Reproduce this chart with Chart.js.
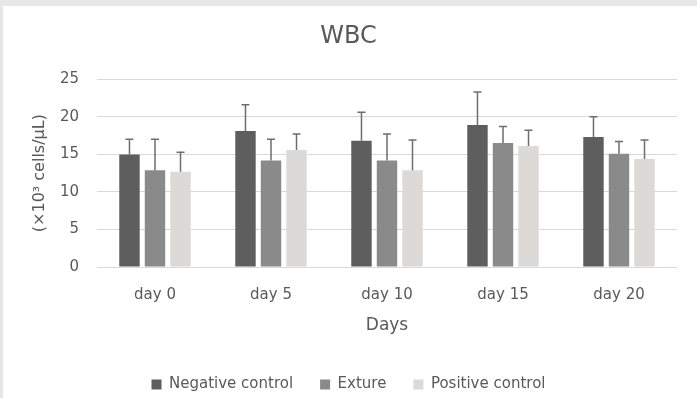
<!DOCTYPE html>
<html>
<head>
<meta charset="utf-8">
<script src="https://cdn.jsdelivr.net/npm/chart.js@4"></script>
<style>
  html, body { margin: 0; padding: 0; background: #e6e7e9; }
  #wrap { position: absolute; left: 0; top: 0; width: 697px; height: 398px; }
</style>
</head>
<body>
<div id="wrap"><canvas id="c" width="697" height="398"></canvas></div>
<script>
const categories = ['day 0', 'day 5', 'day 10', 'day 15', 'day 20'];
const seriesNames = ['Negative control', 'Exture', 'Positive control'];
const negativeMean = [15.0, 18.1, 16.8, 18.9, 17.3];
const negativeErr  = [2.0, 3.5, 3.8, 4.4, 2.7];
const extureMean   = [12.9, 14.2, 14.2, 16.5, 15.1];
const extureErr    = [4.1, 2.8, 3.5, 2.2, 1.6];
const positiveMean = [12.7, 15.6, 12.9, 16.1, 14.4];
const positiveErr  = [2.6, 2.1, 4.0, 2.1, 2.5];
const yTicks = [0, 5, 10, 15, 20, 25];

const FONT = "'DejaVu Sans', 'Noto Sans', sans-serif";
const TEXT = '#595959';

const bgPlugin = {
  id: 'bg',
  beforeDraw(chart) {
    const ctx = chart.ctx;
    ctx.save();
    ctx.fillStyle = '#e6e7e9';
    ctx.fillRect(0, 0, chart.width, chart.height);
    ctx.fillStyle = '#ffffff';
    ctx.fillRect(3, 6, chart.width - 3, chart.height - 6);
    ctx.restore();
  }
};

const errorBarPlugin = {
  id: 'errorBars',
  afterDatasetsDraw(chart) {
    const ctx = chart.ctx;
    const ys = chart.scales.y;
    ctx.save();
    ctx.strokeStyle = '#6e6e6e';
    ctx.lineWidth = 1.5;
    chart.data.datasets.forEach((ds, i) => {
      const meta = chart.getDatasetMeta(i);
      meta.data.forEach((bar, j) => {
        const base = ys.getPixelForValue(ds.data[j]);
        const top = ys.getPixelForValue(ds.data[j] + ds.errUp[j]);
        ctx.beginPath();
        ctx.moveTo(bar.x, base);
        ctx.lineTo(bar.x, top);
        ctx.moveTo(bar.x - 4, top);
        ctx.lineTo(bar.x + 4, top);
        ctx.stroke();
      });
    });
    ctx.restore();
  }
};

new Chart(document.getElementById('c'), {
  type: 'bar',
  data: {
    labels: categories,
    datasets: [
      { label: seriesNames[0], data: negativeMean, errUp: negativeErr, backgroundColor: '#5e5e5e' },
      { label: seriesNames[1], data: extureMean, errUp: extureErr, backgroundColor: '#8a8a8a' },
      { label: seriesNames[2], data: positiveMean, errUp: positiveErr, backgroundColor: '#dbdad8' }
    ]
  },
  options: {
    responsive: false,
    animation: false,
    devicePixelRatio: 1,
    categoryPercentage: 0.66,
    barPercentage: 0.8,
    layout: { padding: { left: 0, right: 0, top: 0, bottom: 0 } },
    plugins: {
      tooltip: { enabled: false },
      title: {
        display: true,
        text: 'WBC',
        color: TEXT,
        font: { family: FONT, size: 24, weight: 'normal' },
        padding: { top: 22.6, bottom: 27.9 }
      },
      legend: {
        position: 'bottom',
        maxHeight: 48,
        labels: {
          color: TEXT,
          font: { family: FONT, size: 15 },
          boxWidth: 10,
          boxHeight: 10,
          padding: 27
        }
      }
    },
    scales: {
      x: {
        grid: { display: false, drawTicks: false },
        border: { display: false },
        ticks: { color: TEXT, font: { family: FONT, size: 15 }, padding: 19 },
        title: {
          display: true, text: 'Days', color: TEXT,
          font: { family: FONT, size: 17 },
          padding: { top: 0, bottom: 13.8 }
        },
        afterFit(s) { s.height = 83; }
      },
      y: {
        min: 0, max: 25,
        afterBuildTicks(s) { s.ticks = yTicks.map(v => ({ value: v })); },
        grid: { color: '#d9d9d9', lineWidth: 1, drawTicks: false },
        border: { display: false },
        ticks: { color: TEXT, font: { family: FONT, size: 15 }, padding: 18 },
        title: {
          display: true, text: '(×10³ cells/μL)', color: TEXT,
          font: { family: FONT, size: 16 },
          padding: { top: 30, bottom: 0 }
        },
        afterFit(s) { s.width = 97; }
      },
      yR: {
        position: 'right',
        display: true,
        grid: { display: false, drawTicks: false },
        border: { display: false },
        ticks: { display: false },
        afterFit(s) { s.width = 20; }
      }
    }
  },
  plugins: [bgPlugin, errorBarPlugin]
});
</script>
</body>
</html>
